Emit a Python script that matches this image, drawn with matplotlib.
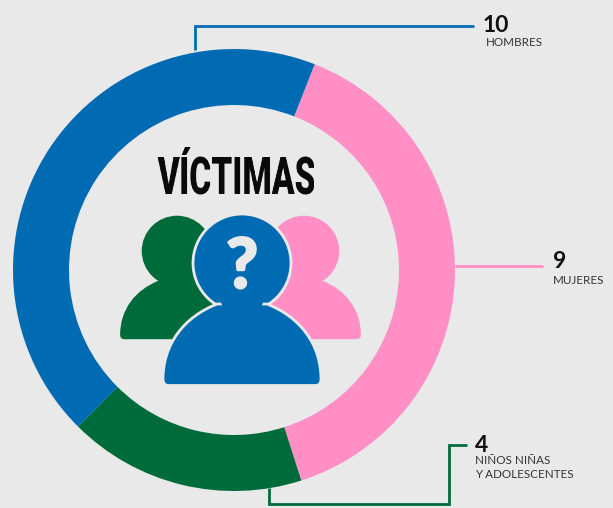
import numpy as np
import matplotlib
matplotlib.use("Agg")
import matplotlib.pyplot as plt
from matplotlib.patches import Circle, PathPatch
from matplotlib.path import Path
import matplotlib.patheffects as pe

# datos de la dona, en sentido horario desde arriba a la derecha
categorias = ["MUJERES", "NIÑOS NIÑAS\nY ADOLESCENTES", "HOMBRES"]
victimas = [9, 4, 10]
colores = ["#ff8fc5", "#006b3a", "#006bb3"]

FONDO = "#e9e9e9"
W, H = 613, 508


def py(y):
    # la imagen se mide desde arriba
    return H - y


def angostar(factor):
    # no hay fuente condensada instalada: se comprime el texto ya dibujado
    def filtro(img, dpi):
        alto, ancho = img.shape[:2]
        nuevo = max(1, int(ancho * factor))
        xs = (np.arange(nuevo) + 0.5) / factor - 0.5
        out = np.zeros((alto, nuevo, img.shape[2]), dtype=img.dtype)
        for c in range(img.shape[2]):
            for f in range(alto):
                out[f, :, c] = np.interp(xs, np.arange(ancho), img[f, :, c])
        return out, 0, 0
    return filtro


def persona(ax, cx, cy_cabeza, s, color, zorder):
    # silueta: cuerpo + cabeza, s=1 es la figura azul del frente
    fondo = py(cy_cabeza + 122.5 * s)
    hombro = py(cy_cabeza + 41 * s)
    verts = [
        (cx - 25 * s, hombro),
        (cx - 58 * s, hombro - 13 * s), (cx - 79 * s, hombro - 40 * s), (cx - 79 * s, fondo + 6 * s),
        (cx - 79 * s, fondo), (cx - 73 * s, fondo),
        (cx + 73 * s, fondo),
        (cx + 79 * s, fondo), (cx + 79 * s, fondo + 6 * s),
        (cx + 79 * s, hombro - 40 * s), (cx + 58 * s, hombro - 13 * s), (cx + 25 * s, hombro),
        (cx - 25 * s, hombro),
    ]
    codes = [Path.MOVETO, Path.CURVE4, Path.CURVE4, Path.CURVE4, Path.CURVE3, Path.CURVE3,
             Path.LINETO, Path.CURVE3, Path.CURVE3, Path.CURVE4, Path.CURVE4, Path.CURVE4,
             Path.CLOSEPOLY]
    borde = FONDO if zorder > 3 else color
    lw = 2 if zorder > 3 else 0
    ax.add_patch(Circle((cx, py(cy_cabeza)), 49 * s, fc=color, ec=borde, lw=lw, zorder=zorder))
    ax.add_patch(PathPatch(Path(verts, codes), fc=color, ec=borde, lw=lw, zorder=zorder))
    # tapa el borde entre cabeza y cuerpo
    ax.add_patch(Circle((cx, py(cy_cabeza + 33 * s)), 22 * s, fc=color, ec="none", zorder=zorder))


fig = plt.figure(figsize=(W / 100, H / 100), dpi=100, facecolor=FONDO)
ax = fig.add_axes([0, 0, 1, 1])

ax.pie(victimas, colors=colores, startangle=68.6, counterclock=False,
       center=(234, py(270)), radius=221, frame=False,
       wedgeprops=dict(width=56, linewidth=0))
ax.set_xlim(0, W)
ax.set_ylim(0, H)
ax.axis("off")

# lineas guia
azul, rosa, verde = colores[2], colores[0], colores[1]
guia = dict(lw=2.0, solid_joinstyle="miter", solid_capstyle="butt")
ax.plot([195, 195, 474], [py(50), py(26), py(26)], color=azul, **guia)
ax.plot([455, 543], [py(266), py(266)], color=rosa, **guia)
ax.plot([269, 269, 449, 449, 467], [py(488), py(503.5), py(503.5), py(445), py(445)], color=verde, **guia)

# numeros y etiquetas
num = dict(family=["Lato", "DejaVu Sans"], fontsize=16.5, fontweight="bold", color="#111111", va="center")
eti = dict(family=["Lato", "DejaVu Sans"], fontsize=8.4, color="#333333", va="center")
ax.text(483, py(25), str(victimas[2]), **num)
ax.text(486, py(43), categorias[2], **eti)
ax.text(553, py(262), str(victimas[0]), **num)
ax.text(553, py(280), categorias[0], **eti)
ax.text(475, py(445), str(victimas[1]), **num)
ax.text(475, py(460), categorias[1].split("\n")[0], **eti)
ax.text(475, py(475), categorias[1].split("\n")[1], **eti)

# centro
titulo = ax.text(157, py(193.5), "VÍCTIMAS", family=["Roboto", "Liberation Sans"],
                 fontsize=37, fontweight=900, color="#0a0a0a", ha="left", va="baseline")
titulo.set_agg_filter(angostar(0.652))

persona(ax, 177, 251, 0.72, verde, 3)
persona(ax, 304, 251, 0.72, rosa, 3)
persona(ax, 242, 263, 1.0, azul, 4)
signo = ax.text(226, py(288), "?", family=["Lato", "DejaVu Sans"], fontsize=50, fontweight=900,
                color=FONDO, ha="left", va="baseline", zorder=6)
signo.set_path_effects([pe.withStroke(linewidth=1.5, foreground=FONDO)])

fig.savefig("out.png", dpi=100, facecolor=FONDO)
